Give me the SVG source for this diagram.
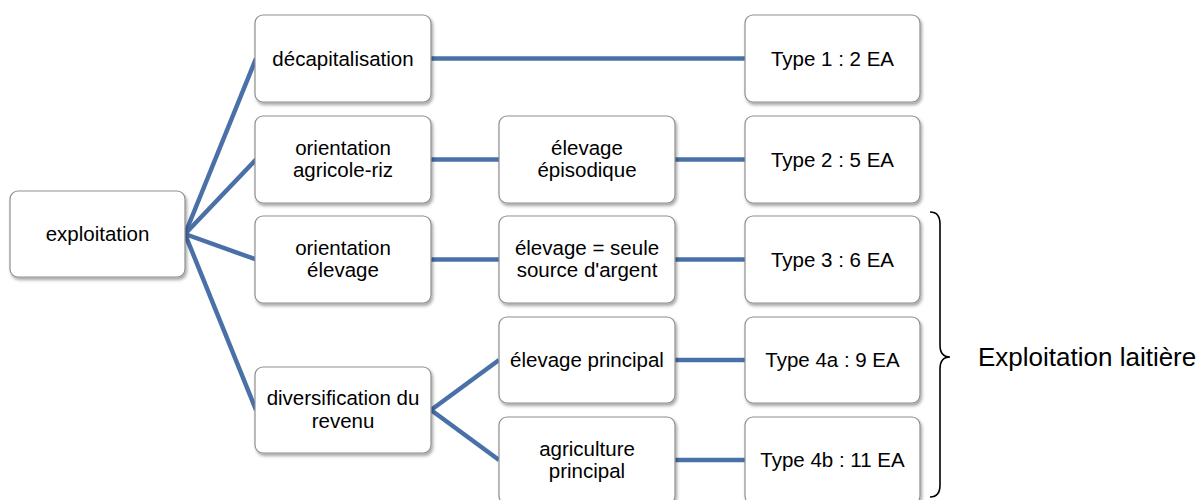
<svg xmlns="http://www.w3.org/2000/svg" width="1203" height="500" viewBox="0 0 1203 500">
<style>
.box{fill:#ffffff;stroke:#8f8f8f;stroke-width:1.2;filter:url(#sh)}
.t{font-family:"Liberation Sans",Arial,sans-serif;font-size:20.5px;fill:#000;text-anchor:middle}
.c{stroke:#4a70a8;stroke-width:4.5;fill:none;stroke-linecap:butt}
.lab{font-family:"Liberation Sans",Arial,sans-serif;font-size:26px;fill:#000}
</style>
<defs>
<filter id="sh" x="-10%" y="-10%" width="125%" height="130%">
<feDropShadow dx="1.5" dy="2.5" stdDeviation="1.8" flood-color="#000" flood-opacity="0.35"/>
</filter>
</defs>
<rect width="1203" height="500" fill="#ffffff"/>
<g id="connectors">
<line class="c" x1="185" y1="234" x2="256" y2="58.5"/>
<line class="c" x1="185" y1="234" x2="256" y2="159.5"/>
<line class="c" x1="185" y1="234" x2="256" y2="259.5"/>
<line class="c" x1="185" y1="234" x2="256" y2="410"/>
<line class="c" x1="431" y1="58.5" x2="745" y2="58.5"/>
<line class="c" x1="431" y1="159.5" x2="499" y2="159.5"/>
<line class="c" x1="675" y1="159.5" x2="745" y2="159.5"/>
<line class="c" x1="431" y1="259.5" x2="499" y2="259.5"/>
<line class="c" x1="675" y1="259.5" x2="745" y2="259.5"/>
<line class="c" x1="431" y1="410" x2="499" y2="360"/>
<line class="c" x1="431" y1="410" x2="499" y2="460"/>
<line class="c" x1="675" y1="360" x2="745" y2="360"/>
<line class="c" x1="675" y1="460" x2="745" y2="460"/>
</g>
<g id="n-exploitation"><rect class="box" x="10" y="191" width="175" height="86" rx="8"/><text class="t" x="97.5" y="241">exploitation</text></g>
<g id="n-decap"><rect class="box" x="255" y="15" width="176" height="87" rx="8"/><text class="t" x="343" y="65.5">décapitalisation</text></g>
<g id="n-orient-agri"><rect class="box" x="255" y="116" width="176" height="87" rx="8"/><text class="t" x="343" y="155">orientation</text><text class="t" x="343" y="177">agricole-riz</text></g>
<g id="n-orient-elev"><rect class="box" x="255" y="216" width="176" height="87" rx="8"/><text class="t" x="343" y="255">orientation</text><text class="t" x="343" y="277">élevage</text></g>
<g id="n-divers"><rect class="box" x="255" y="367" width="176" height="86" rx="8"/><text class="t" x="343" y="405">diversification du</text><text class="t" x="343" y="428">revenu</text></g>
<g id="n-elev-epis"><rect class="box" x="499" y="116" width="176" height="87" rx="8"/><text class="t" x="587" y="155">élevage</text><text class="t" x="587" y="177">épisodique</text></g>
<g id="n-elev-seule"><rect class="box" x="499" y="216" width="176" height="87" rx="8"/><text class="t" x="587" y="255">élevage = seule</text><text class="t" x="587" y="277">source d'argent</text></g>
<g id="n-elev-princ"><rect class="box" x="499" y="317" width="176" height="86" rx="8"/><text class="t" x="587" y="367">élevage principal</text></g>
<g id="n-agri-princ"><rect class="box" x="499" y="417" width="176" height="87" rx="8"/><text class="t" x="587" y="456">agriculture</text><text class="t" x="587" y="478">principal</text></g>
<g id="n-type1"><rect class="box" x="745" y="15" width="175" height="87" rx="8"/><text class="t" x="832.5" y="65.5">Type 1 : 2 EA</text></g>
<g id="n-type2"><rect class="box" x="745" y="116" width="175" height="87" rx="8"/><text class="t" x="832.5" y="166.5">Type 2 : 5 EA</text></g>
<g id="n-type3"><rect class="box" x="745" y="216" width="175" height="87" rx="8"/><text class="t" x="832.5" y="266.5">Type 3 : 6 EA</text></g>
<g id="n-type4a"><rect class="box" x="745" y="317" width="175" height="86" rx="8"/><text class="t" x="832.5" y="367">Type 4a : 9 EA</text></g>
<g id="n-type4b"><rect class="box" x="745" y="417" width="175" height="87" rx="8"/><text class="t" x="832.5" y="467">Type 4b : 11 EA</text></g>
<g id="brace">
<path d="M930,212 Q940,212 940,224 L940,345 Q940,357 950,357 Q940,357 940,369 L940,485 Q940,497 930,497" fill="none" stroke="#000" stroke-width="1.6"/>
<text class="lab" x="978" y="366">Exploitation laitière</text>
</g>
</svg>
